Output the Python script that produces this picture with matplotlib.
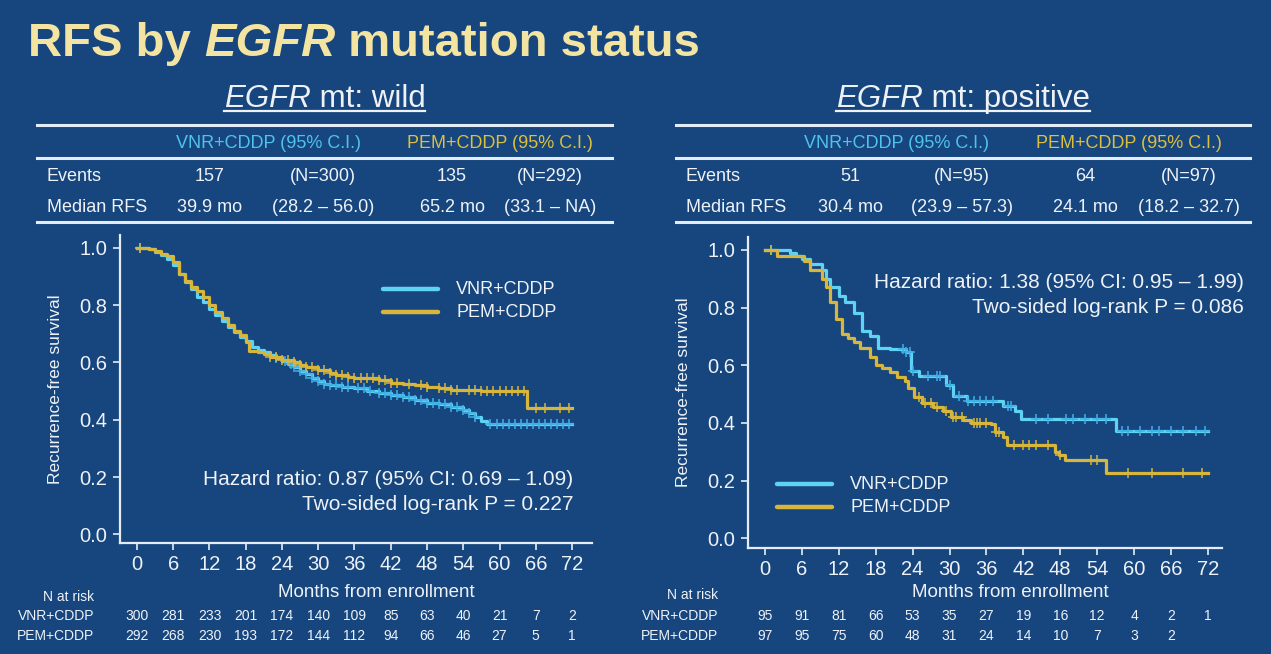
import matplotlib
matplotlib.use("Agg")
import matplotlib.pyplot as plt
import matplotlib.transforms as mtransforms
import numpy as np
from matplotlib.lines import Line2D

BG = "#17467e"
FG = "#eef2f7"
RULE = "#e4edf7"
TITLE_COL = "#f3e4a2"
VNR_COL = "#5fd3f3"
VNR_CENS = "#3fb0e6"
PEM_COL = "#d8b63c"
VNR_HDR = "#4fc3ee"
PEM_HDR = "#dcbf3e"

plt.rcParams["font.family"] = ["Liberation Sans", "DejaVu Sans"]

MONTH_TICKS = [0, 6, 12, 18, 24, 30, 36, 42, 48, 54, 60, 66, 72]
Y_TICKS = [0.0, 0.2, 0.4, 0.6, 0.8, 1.0]
ARMS = ["VNR+CDDP", "PEM+CDDP"]
HEADERS = ["VNR+CDDP (95% C.I.)", "PEM+CDDP (95% C.I.)"]

# ---- EGFR wild ----
wild_vnr_t = [0, 2, 3, 4, 5, 6, 7, 8, 9, 10, 11, 12, 13, 14, 15, 16, 17, 18, 19, 20, 21, 22,
              23, 24, 25, 26, 27, 28, 29, 30, 31, 32, 34, 36, 38, 40, 42, 44, 46, 48, 50, 52,
              54, 55, 56, 57, 58, 72]
wild_vnr_s = [1.0, 0.995, 0.985, 0.975, 0.96, 0.94, 0.91, 0.88, 0.855, 0.83, 0.81, 0.785, 0.765,
              0.745, 0.725, 0.705, 0.69, 0.675, 0.655, 0.645, 0.635, 0.625, 0.615, 0.605, 0.595,
              0.585, 0.57, 0.56, 0.545, 0.535, 0.525, 0.52, 0.515, 0.51, 0.5, 0.495, 0.485, 0.48,
              0.47, 0.46, 0.455, 0.445, 0.435, 0.425, 0.41, 0.395, 0.385, 0.385]
wild_pem_t = [0, 2, 3, 4, 5, 6, 7, 8, 9, 10, 11, 12, 13, 14, 15, 16, 17, 18, 18.5, 20, 21, 22,
              24, 26, 27, 28, 30, 32, 33, 35, 36, 38, 40, 42, 44, 46, 48, 50, 52, 54, 57, 64.6, 72]
wild_pem_s = [1.0, 0.995, 0.99, 0.98, 0.97, 0.95, 0.91, 0.885, 0.865, 0.85, 0.83, 0.80, 0.775,
              0.755, 0.73, 0.71, 0.695, 0.67, 0.64, 0.635, 0.63, 0.62, 0.61, 0.60, 0.59, 0.585,
              0.575, 0.565, 0.555, 0.55, 0.545, 0.545, 0.54, 0.53, 0.525, 0.52, 0.515, 0.51,
              0.505, 0.505, 0.50, 0.44, 0.44]
wild_vnr_cens = [0.5, 23, 24.5, 25.5, 26, 27, 28, 29, 30, 31, 32, 33, 34, 35, 36.5, 37.5, 38.5,
                 40, 41, 42, 43, 44, 45, 46, 47, 48, 49, 50, 51, 52, 53, 54, 55, 56, 58.5, 59.5,
                 60.5, 61.5, 62.5, 63.5, 64.5, 65.5, 66.5, 67.5, 68.5, 69.5, 70.5, 71.5]
wild_pem_cens = [0.5, 22, 23, 24, 25, 26, 27, 28, 29, 30, 31, 32, 33, 34, 35, 36, 37, 38, 39, 40,
                 41, 42, 43, 45, 47, 48, 50, 51, 52, 53, 55, 56, 57, 58, 59, 60, 61, 62, 63, 64,
                 66, 67.5, 70, 71.5]
wild_risk_vnr = [300, 281, 233, 201, 174, 140, 109, 85, 63, 40, 21, 7, 2]
wild_risk_pem = [292, 268, 230, 193, 172, 144, 112, 94, 66, 46, 27, 5, 1]
wild_table = [["Events", "157", "(N=300)", "135", "(N=292)"],
              ["Median RFS", "39.9 mo", "(28.2 \u2013 56.0)", "65.2 mo", "(33.1 \u2013 NA)"]]
wild_stats = ["Hazard ratio: 0.87 (95% CI: 0.69 \u2013 1.09)", "Two-sided log-rank P = 0.227"]

# ---- EGFR positive ----
pos_vnr_t = [0, 4, 5, 6, 7.3, 9.3, 10, 10.6, 12, 13, 14.5, 15.8, 17, 18.4, 20.4, 23, 23.7, 25,
             29.5, 30.5, 32.8, 38.7, 40.7, 41.6, 57.1, 72]
pos_vnr_s = [1.0, 0.99, 0.98, 0.97, 0.95, 0.93, 0.90, 0.87, 0.84, 0.82, 0.78, 0.72, 0.70, 0.66,
             0.655, 0.645, 0.58, 0.563, 0.53, 0.494, 0.475, 0.46, 0.44, 0.415, 0.372, 0.372]
pos_pem_t = [0, 2, 6.3, 7.3, 9.3, 10, 10.6, 11.6, 12.5, 13.5, 14.5, 15.5, 17, 18, 19, 20.4, 21.4,
             22.7, 23.3, 24.3, 25.6, 27.3, 28.9, 30.2, 32.2, 33.5, 36.7, 37.4, 38.7, 39.3, 47.2,
             47.8, 48.8, 55.4, 72]
pos_pem_s = [1.0, 0.98, 0.96, 0.93, 0.90, 0.87, 0.82, 0.76, 0.71, 0.695, 0.68, 0.66, 0.63, 0.60,
             0.59, 0.575, 0.56, 0.545, 0.52, 0.49, 0.47, 0.455, 0.44, 0.42, 0.41, 0.40, 0.395,
             0.37, 0.35, 0.325, 0.30, 0.29, 0.27, 0.225, 0.225]
pos_vnr_cens = [1, 22.5, 23, 23.5, 24, 26.5, 28, 28.5, 30, 31.5, 33, 34, 35, 36, 37, 39.5, 40,
                44, 46, 49, 50, 52, 54, 55.5, 58, 59, 61, 63, 64, 66, 68, 70, 71.5]
pos_pem_cens = [1, 25, 26, 27, 28, 29.5, 30.5, 31, 32, 34, 34.5, 35, 36, 37.5, 38, 40.5, 42, 43,
                44, 46, 48, 53, 54, 59, 63, 68, 71]
pos_risk_vnr = [95, 91, 81, 66, 53, 35, 27, 19, 16, 12, 4, 2, 1]
pos_risk_pem = [97, 95, 75, 60, 48, 31, 24, 14, 10, 7, 3, 2, None]
pos_table = [["Events", "51", "(N=95)", "64", "(N=97)"],
             ["Median RFS", "30.4 mo", "(23.9 \u2013 57.3)", "24.1 mo", "(18.2 \u2013 32.7)"]]
pos_stats = ["Hazard ratio: 1.38 (95% CI: 0.95 \u2013 1.99)", "Two-sided log-rank P = 0.086"]

W, H = 1271, 654
fig = plt.figure(figsize=(W / 100, H / 100), dpi=100, facecolor=BG)
renderer = fig.canvas.get_renderer()


def px(x, y):
    return x / W, 1 - y / H


def hline(x0, x1, y, **kw):
    fig.add_artist(Line2D([x0 / W, x1 / W], [1 - y / H] * 2, transform=fig.transFigure, **kw))


def put_runs(x, y, runs, **kw):
    """Place text pieces one after another starting at pixel x (baseline y)."""
    for text, style in runs:
        t = fig.text(*px(x, y), text, fontstyle=style, va="baseline", ha="left", **kw)
        x += t.get_window_extent(renderer).width
    return x


def underlined_title(cx, y, runs, **kw):
    widths = []
    for text, style in runs:
        t = fig.text(0, 0, text, fontstyle=style, **kw)
        widths.append(t.get_window_extent(renderer).width)
        t.remove()
    x0 = cx - sum(widths) / 2
    x1 = put_runs(x0, y, runs, **kw)
    hline(x0, x1, y + 4, color=FG, lw=1.6)


def surv_at(t, s, x):
    i = np.searchsorted(t, x, side="right") - 1
    return s[i]


# main title
put_runs(28, 56, [("RFS by ", "normal"), ("EGFR", "italic"), (" mutation status", "normal")],
         fontsize=34, fontweight="bold", color=TITLE_COL)


def panel(box, xlim, ylim, subtitle, x_tab, col_x, hdr_x, curves, cens, risk, table, stats,
          stats_x, stats_y, leg_x, leg_y, xlab_x, tick_base, risk_x, risk_y):
    underlined_title((x_tab[0] + x_tab[1]) / 2, 107,
                     [("EGFR", "italic"), (" mt: " + subtitle, "normal")], fontsize=22.5, color=FG)

    # summary table
    for yy in (125, 158, 222):
        hline(x_tab[0], x_tab[1], yy, color=RULE, lw=2.2)
    for hdr, hx, hc in zip(HEADERS, hdr_x, (VNR_HDR, PEM_HDR)):
        fig.text(*px(hx, 148), hdr, color=hc, fontsize=13, ha="center", va="baseline")
    for row, yy in zip(table, (181, 212)):
        fig.text(*px(x_tab[0] + 10, yy), row[0], color=FG, fontsize=13, ha="left", va="baseline")
        for cell, cx in zip(row[1:], col_x):
            fig.text(*px(cx, yy), cell, color=FG, fontsize=13, ha="center", va="baseline")

    # KM axes
    x0, y_top, x1, y_bot = box
    ax = fig.add_axes([x0 / W, 1 - y_bot / H, (x1 - x0) / W, (y_bot - y_top) / H])
    ax.set_facecolor(BG)
    for (t, s), col, c_t, c_col in zip(curves, (VNR_COL, PEM_COL), cens, (VNR_CENS, PEM_COL)):
        ax.step(t, s, where="post", color=col, lw=2.3)
        ta, sa = np.array(t), np.array(s)
        ax.plot(c_t, [surv_at(ta, sa, c) for c in c_t], "+", color=c_col, ms=7, mew=1.1)
    ax.set_xlim(*xlim)
    ax.set_ylim(*ylim)
    ax.set_xticks(MONTH_TICKS)
    ax.set_yticks(Y_TICKS)
    ax.set_yticklabels([f"{v:.1f}" for v in Y_TICKS])
    for side in ("top", "right"):
        ax.spines[side].set_visible(False)
    for side in ("left", "bottom"):
        ax.spines[side].set_color(RULE)
        ax.spines[side].set_linewidth(1.6)
    ax.tick_params(colors=RULE, labelcolor=FG, labelsize=14.5, length=5, width=1.2)
    ax.tick_params(axis="y", pad=4)
    ax.tick_params(axis="x", labelbottom=False)
    fig.text(x0 / W - 64 / W, 1 - (y_top + y_bot) / 2 / H, "Recurrence-free survival",
             rotation=90, color=FG, fontsize=12.5, ha="center", va="center")

    # x tick labels and numbers at risk, in data x / figure y
    tr = mtransforms.blended_transform_factory(ax.transData, fig.transFigure)
    for i, xt in enumerate(MONTH_TICKS):
        ax.text(xt, 1 - tick_base / H, str(xt), transform=tr, color=FG, fontsize=14.5,
                ha="center", va="baseline")
        for vals, yy in zip(risk, risk_y[1:]):
            if vals[i] is not None:
                ax.text(xt, 1 - yy / H, str(vals[i]), transform=tr, color=FG, fontsize=10,
                        ha="center", va="baseline")
    fig.text(*px(xlab_x, 597), "Months from enrollment", color=FG, fontsize=13.5,
             ha="center", va="baseline")
    fig.text(*px(risk_x, risk_y[0]), "N at risk", color=FG, fontsize=10, ha="right",
             va="baseline")
    for arm, yy in zip(ARMS, risk_y[1:]):
        fig.text(*px(risk_x, yy), arm, color=FG, fontsize=10, ha="right", va="baseline")

    # legend
    for arm, col, ly in zip(ARMS, (VNR_COL, PEM_COL), leg_y):
        hline(leg_x, leg_x + 55, ly, color=col, lw=3.2, solid_capstyle="round")
        fig.text(*px(leg_x + 73, ly + 5), arm, color=FG, fontsize=13, ha="left", va="baseline")

    # statistics
    for line, sy in zip(stats, stats_y):
        fig.text(*px(stats_x, sy), line, color=FG, fontsize=15, ha="right", va="baseline")
    return ax


panel((120, 235, 592, 543), (-2.8, 75.3), (-0.03, 1.045), "wild",
      (37, 612), (210, 323, 452, 550), (268, 500),
      [(wild_vnr_t, wild_vnr_s), (wild_pem_t, wild_pem_s)], (wild_vnr_cens, wild_pem_cens),
      (wild_risk_vnr, wild_risk_pem), wild_table, wild_stats,
      573, (485, 510), 383, (289, 312), 376, 570, 94, (601, 620, 640))

panel((748, 237, 1222, 548), (-2.76, 74.3), (-0.034, 1.045), "positive",
      (676, 1250), (850, 962, 1085, 1189), (897, 1129),
      [(pos_vnr_t, pos_vnr_s), (pos_pem_t, pos_pem_s)], (pos_vnr_cens, pos_pem_cens),
      (pos_risk_vnr, pos_risk_pem), pos_table, pos_stats,
      1244, (288, 313), 777, (484, 507), 1010, 575, 718, (599, 620, 640))

fig.savefig("out.png", facecolor=BG)
plt.close(fig)
